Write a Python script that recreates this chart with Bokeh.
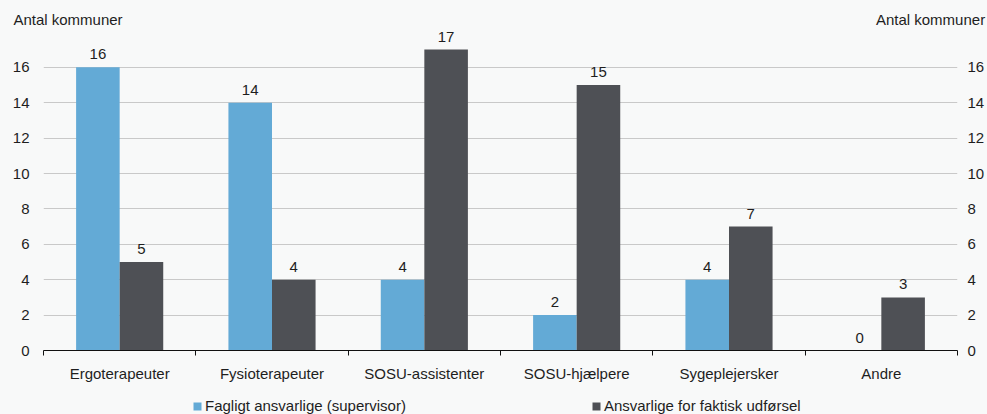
import numpy as np
from bokeh.plotting import figure
from bokeh.layouts import column
from bokeh.models import (Range1d, FixedTicker, LinearAxis, Legend, LegendItem,
                          ColumnDataSource)
from bokeh.core.properties import value
from bokeh.embed import file_html
from bokeh.resources import INLINE

categories = ["Ergoterapeuter", "Fysioterapeuter", "SOSU-assistenter",
              "SOSU-hjælpere", "Sygeplejersker", "Andre"]
faglig = [16, 14, 4, 2, 4, 0]
udfoersel = [5, 4, 17, 15, 7, 3]
y_ticks = [0, 2, 4, 6, 8, 10, 12, 14, 16]
series_names = ["Fagligt ansvarlige (supervisor)", "Ansvarlige for faktisk udførsel"]
y_title = "Antal kommuner"

BG = "#f8f9f9"
BLUE = "#63aad6"
DARK = "#4e5055"
TXT = "#1e1e1e"
FONT = "Liberation Sans"
FS = "15px"

n = len(categories)
idx = np.arange(n)
bw = 0.286

W = 987
TOP, FRAME_H, BOTTOM = 30, 324, 30
H_BOT = 30
LEFT, RIGHT = 43, 30

# ---- main chart
p = figure(width=W, height=TOP + FRAME_H + BOTTOM, output_backend="svg",
           toolbar_location=None,
           x_range=Range1d(0, n), y_range=Range1d(0, 18.08),
           background_fill_color=BG, border_fill_color=BG,
           min_border_left=LEFT, min_border_right=RIGHT, min_border_top=TOP,
           min_border_bottom=BOTTOM)
p.outline_line_color = None

src1 = ColumnDataSource(dict(x=idx + 0.5 - bw / 2, top=faglig,
                             lbl=[str(v) for v in faglig]))
src2 = ColumnDataSource(dict(x=idx + 0.5 + bw / 2, top=udfoersel,
                             lbl=[str(v) for v in udfoersel]))
p.vbar(x="x", top="top", width=bw, source=src1, fill_color=BLUE, line_color=None)
p.vbar(x="x", top="top", width=bw, source=src2, fill_color=DARK, line_color=None)

for s in (src1, src2):
    p.text(x="x", y="top", text="lbl", source=s, text_align="center",
           text_baseline="bottom", y_offset=-8, text_font=value(FONT),
           text_font_size=FS, text_color=TXT)

xa = p.xaxis[0]
xa.ticker = FixedTicker(ticks=list(idx + 0.5), minor_ticks=list(range(n + 1)))
xa.major_label_overrides = {float(i + 0.5): c for i, c in enumerate(categories)}
xa.major_tick_line_color = None
xa.major_tick_out = 0
xa.major_tick_in = 0
xa.minor_tick_line_color = "#111111"
xa.minor_tick_out = 5
xa.minor_tick_in = 0
xa.axis_line_color = "#111111"
xa.major_label_standoff = 9
xa.major_label_text_font = FONT
xa.major_label_text_font_size = FS
xa.major_label_text_color = TXT

# axis titles ("Antal kommuner") written horizontally above both value axes
title_pos = [0.161, 5.823]
ta = LinearAxis(ticker=FixedTicker(ticks=title_pos),
                major_label_overrides={t: y_title for t in title_pos})
ta.axis_line_color = None
ta.major_tick_line_color = None
ta.minor_tick_line_color = None
ta.major_tick_out = 0
ta.major_tick_in = 0
ta.major_label_standoff = 3
ta.major_label_text_font = FONT
ta.major_label_text_font_size = FS
ta.major_label_text_color = TXT
p.add_layout(ta, "above")


def style_y(ax, standoff):
    ax.ticker = FixedTicker(ticks=y_ticks)
    ax.axis_line_color = None
    ax.major_tick_line_color = None
    ax.minor_tick_line_color = None
    ax.major_tick_out = 0
    ax.major_tick_in = 0
    ax.major_label_standoff = standoff
    ax.major_label_text_font = FONT
    ax.major_label_text_font_size = FS
    ax.major_label_text_color = TXT


style_y(p.yaxis[0], 14)
ra = LinearAxis()
style_y(ra, 10)
p.add_layout(ra, "right")

p.xgrid.grid_line_color = None
p.ygrid.ticker = FixedTicker(ticks=y_ticks[1:])
p.ygrid.grid_line_color = "#c9c9c9"
p.ygrid.grid_line_width = 1

# ---- bottom strip with the legend (hidden copies of the series feed it)
bot = figure(width=W, height=H_BOT, output_backend="svg", toolbar_location=None,
             x_range=Range1d(0, n), y_range=Range1d(0, 18.08),
             x_axis_type=None, y_axis_type=None,
             background_fill_color=BG, border_fill_color=BG,
             min_border_left=LEFT, min_border_right=RIGHT, min_border_top=0,
             min_border_bottom=0)
bot.outline_line_color = None
bot.grid.visible = False
e1 = bot.vbar(x="x", top="top", width=bw, source=src1, fill_color=BLUE,
              line_color=None, visible=False)
e2 = bot.vbar(x="x", top="top", width=bw, source=src2, fill_color=DARK,
              line_color=None, visible=False)
legend = Legend(items=[LegendItem(label=series_names[0], renderers=[e1]),
                       LegendItem(label=series_names[1], renderers=[e2])],
                orientation="horizontal", location=(149, 0),
                glyph_width=10, glyph_height=10, label_standoff=3,
                spacing=185, padding=2, margin=0,
                border_line_color=None, background_fill_alpha=0,
                label_text_font=FONT, label_text_font_size=FS,
                label_text_color=TXT)
bot.add_layout(legend)

layout = column(p, bot, spacing=0, styles={"background-color": BG})
open("out.html", "w").write(file_html(layout, INLINE))
